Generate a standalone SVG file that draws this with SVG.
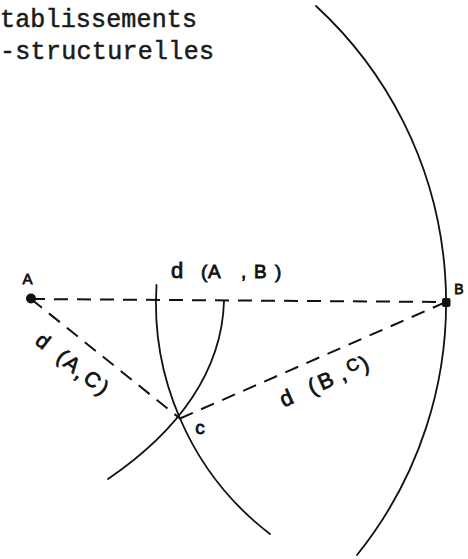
<svg xmlns="http://www.w3.org/2000/svg" width="468" height="559" viewBox="0 0 468 559">
<style>
.dash{stroke:#111;stroke-width:2;stroke-dasharray:14 9;fill:none}
.arc{stroke:#111;fill:none;stroke-width:1.8;stroke-linecap:round}
.hand{font-family:"Liberation Sans","DejaVu Sans",sans-serif;fill:#111;stroke:#111;stroke-width:0.8}
.type{font-family:"Liberation Mono","DejaVu Sans Mono",monospace;font-size:25px;fill:#1a1a1a;stroke:#1a1a1a;stroke-width:0.5}
</style>
<rect width="468" height="559" fill="#fff"/>
<g id="header">
<text class="type" x="0" y="27" textLength="197" lengthAdjust="spacing">tablissements</text>
<text class="type" x="0" y="59" textLength="214" lengthAdjust="spacing">-structurelles</text>
</g>
<g id="arcs">
<path class="arc" d="M316 6 A402.7 402.7 0 0 1 357 555"/>
<path class="arc" stroke-width="3.4" d="M156.5 285 A290 290 0 0 0 180 418.5"/>
<path class="arc" d="M180 418.5 A290 290 0 0 0 270 534"/>
<path class="arc" d="M224 301 C222 370 180 430 108 479"/>
</g>
<g id="connectors">
<line class="dash" x1="31" y1="299" x2="446" y2="302"/>
<line class="dash" x1="31" y1="299" x2="180" y2="418.5"/>
<line class="dash" x1="180" y1="418.5" x2="446" y2="302"/>
</g>
<g id="node-A">
<circle cx="31" cy="298.5" r="5" fill="#111"/>
<text class="hand" x="27.5" y="283.5" font-size="15" text-anchor="middle">A</text>
</g>
<g id="node-B">
<rect x="442" y="298" width="8.5" height="9" rx="2" fill="#111"/>
<text class="hand" x="459" y="293.5" font-size="14" text-anchor="middle" stroke-width="0.4">B</text>
</g>
<g id="node-C">
<text class="hand" x="200" y="434" font-size="19" text-anchor="middle">c</text>
</g>
<g id="labels">
<text class="hand" y="278" font-size="19"><tspan x="171" font-size="22">d</tspan><tspan x="201">(</tspan><tspan x="208">A</tspan><tspan x="241">,</tspan><tspan x="254">B</tspan><tspan x="275">)</tspan></text>
<text class="hand" font-size="21" transform="translate(34 343) rotate(38)"><tspan x="0" y="0">d</tspan><tspan x="27" y="0">(</tspan><tspan x="36" y="0">A</tspan><tspan x="52" y="2">,</tspan><tspan x="61" y="0">C</tspan><tspan x="79" y="0">)</tspan></text>
<text class="hand" font-size="22" transform="translate(283.7 407.5) rotate(-24)"><tspan x="0" y="0">d</tspan><tspan x="31" y="0">(</tspan><tspan x="42" y="0">B</tspan><tspan x="64" y="0">,</tspan><tspan x="74" y="-5" font-size="17">C</tspan><tspan x="88" y="0">)</tspan></text>
</g>
</svg>
